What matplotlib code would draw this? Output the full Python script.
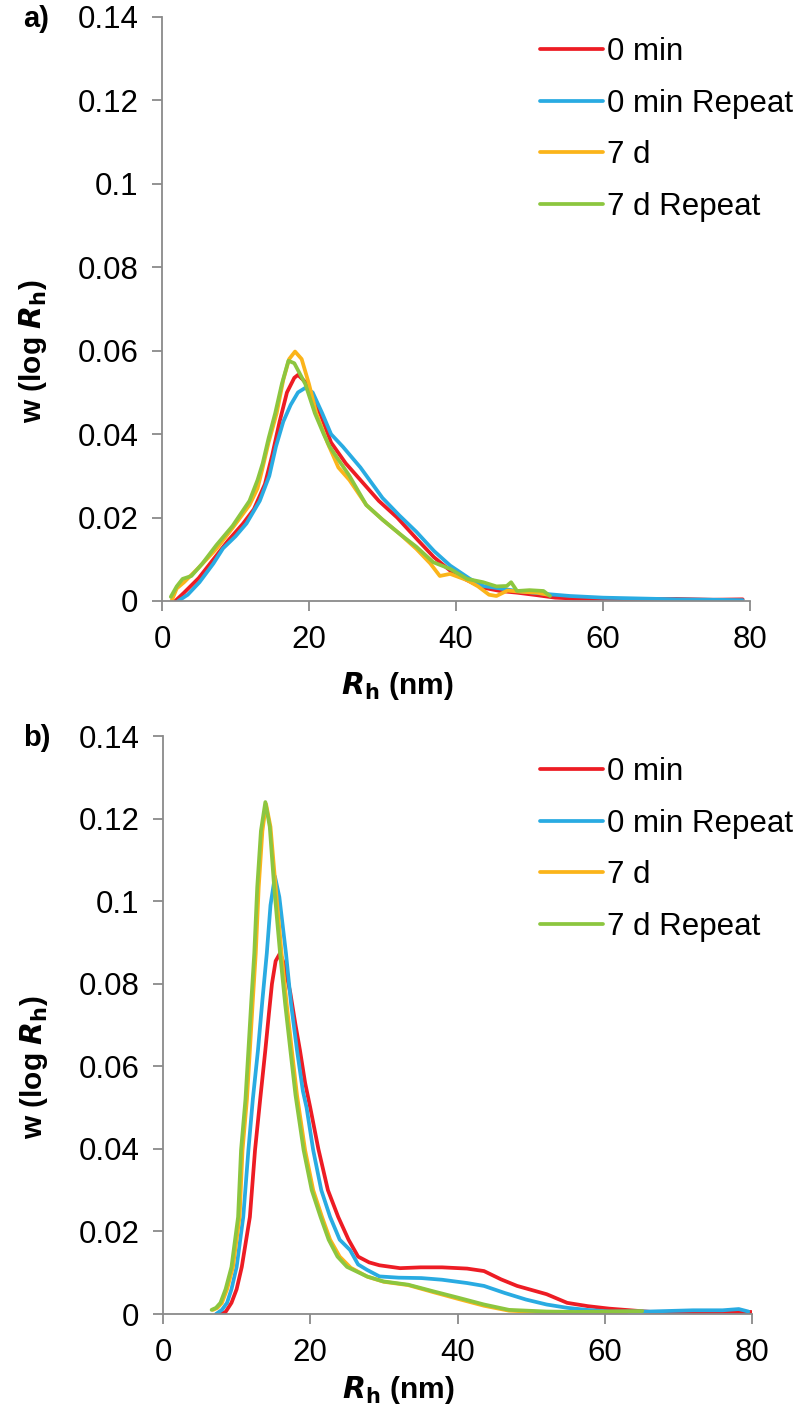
#!/usr/bin/env python

'''Size distributions w(log Rh) for the two samples, 0 min vs 7 d.'''

import matplotlib
matplotlib.use('Agg')
import matplotlib.pyplot as plt

plt.rcParams['font.family'] = ['Liberation Sans', 'DejaVu Sans']

LABELS = ['0 min', '0 min Repeat', '7 d', '7 d Repeat']
COLOURS = ['#ED1C24', '#29ABE2', '#FBB41A', '#8CC63F']

########################################################################
# Panel a) values

a_red_x = [1.8, 3, 5, 7, 9, 11, 12.5, 14, 15, 16, 17, 18, 18.5, 19.5, 20.5,
           21.5, 23, 25, 27, 29.5, 32, 34.6, 37, 39.2, 41.5, 43.7, 46, 48.3,
           51, 53.5, 56, 60, 65, 70, 75, 79]
a_red_y = [0.0, 0.002, 0.0055, 0.010, 0.0145, 0.0185, 0.022, 0.028, 0.035,
           0.043, 0.050, 0.0535, 0.0542, 0.0525, 0.049, 0.045, 0.038, 0.033,
           0.029, 0.024, 0.020, 0.015, 0.0105, 0.0073, 0.0050, 0.0032, 0.0024,
           0.0020, 0.0014, 0.0008, 0.0006, 0.0005, 0.0004, 0.0005, 0.0003,
           0.0004]

a_blue_x = [2.2, 3.5, 5.1, 7, 8.3, 10, 11.5, 13.3, 14.6, 15.5, 16.5, 17.5,
            18.5, 19.5, 20.5, 21.8, 23, 24.6, 27, 30, 32.3, 34.6, 37, 39.2,
            41.9, 43.7, 46, 48.3, 52.8, 55.5, 60, 65, 70, 75, 79]
a_blue_y = [0.0, 0.0015, 0.0045, 0.009, 0.0126, 0.0155, 0.0186, 0.024, 0.030,
            0.037, 0.043, 0.047, 0.050, 0.0511, 0.050, 0.045, 0.040, 0.037,
            0.032, 0.0247, 0.0205, 0.0166, 0.012, 0.0085, 0.0053, 0.0036,
            0.003, 0.0024, 0.0016, 0.0012, 0.0008, 0.0006, 0.0004, 0.0003,
            0.0002]

a_orange_x = [1.3, 2, 3, 5, 7.4, 9.6, 11.9, 13, 13.7, 14.5, 15.6, 16.5, 17.3,
              18.1, 19, 20, 21, 22.5, 24, 25.5, 27.8, 30, 32.4, 34.6, 36.5,
              37.8, 39.2, 41.5, 43, 44.5, 45.5, 47, 49, 51, 52.5]
a_orange_y = [0.0, 0.003, 0.0045, 0.008, 0.0125, 0.0175, 0.023, 0.027, 0.032,
              0.038, 0.045, 0.053, 0.058, 0.0598, 0.058, 0.052, 0.045, 0.038,
              0.032, 0.029, 0.023, 0.0195, 0.016, 0.0125, 0.009, 0.006,
              0.0065, 0.005, 0.0035, 0.0015, 0.0012, 0.0025, 0.0022, 0.0020,
              0.0015]

a_green_x = [1.2, 2, 2.8, 4, 5.5, 7.4, 9.6, 11.9, 13, 13.7, 14.5, 15.4, 16.3,
             17.2, 18, 19.5, 20.8, 22, 22.8, 25.5, 27.8, 30, 32.4, 34.6, 36.9,
             39.2, 41.5, 43.7, 45.5, 46.9, 47.5, 48.3, 50, 51.9, 52.8]
a_green_y = [0.001, 0.0035, 0.0053, 0.006, 0.009, 0.0134, 0.018, 0.024, 0.029,
             0.033, 0.039, 0.045, 0.052, 0.0576, 0.057, 0.052, 0.045, 0.040,
             0.037, 0.030, 0.023, 0.0195, 0.016, 0.013, 0.0093, 0.0077,
             0.0053, 0.0045, 0.0035, 0.0036, 0.0045, 0.0024, 0.0026, 0.0024,
             0.0012]

########################################################################
# Panel b) values

b_red_x = [7.8, 8.5, 9.3, 10.0, 10.7, 11.8, 12.5, 13.2, 13.9, 14.4, 14.8,
           15.3, 15.9, 16.5, 17.3, 18.0, 18.6, 19.3, 20.0, 21.1, 22.4, 23.8,
           25.2, 26.5, 28, 29.4, 32.2, 35, 37.9, 41.3, 43.6, 45.9, 48.1, 52.1,
           54.9, 57.7, 60.6, 66.3, 72, 76, 79.9]
b_red_y = [0.0, 0.0005, 0.0027, 0.006, 0.0114, 0.0235, 0.0397, 0.052, 0.0639,
           0.073, 0.080, 0.0855, 0.0874, 0.0845, 0.0777, 0.070, 0.0639, 0.056,
           0.050, 0.040, 0.030, 0.0235, 0.018, 0.0139, 0.0125, 0.0118, 0.0111,
           0.0113, 0.0113, 0.011, 0.0104, 0.0084, 0.0068, 0.0048, 0.0027,
           0.0019, 0.0013, 0.0005, 0.0004, 0.0003, 0.0005]

b_blue_x = [7.2, 8.0, 8.7, 9.3, 10.0, 10.9, 11.6, 12.2, 12.9, 13.5, 14.1,
            14.6, 15.2, 15.8, 16.7, 17.4, 18.2, 19.0, 19.5, 20.4, 21.5, 22.7,
            24.0, 25.4, 26.5, 27.7, 29.4, 32, 35.1, 37.9, 41.3, 43.6, 46.4,
            49.3, 52.1, 54.9, 57.5, 60.6, 66, 72, 76, 78.2, 79.5]
b_blue_y = [0.0, 0.001, 0.0027, 0.006, 0.0114, 0.0235, 0.0397, 0.052, 0.0639,
            0.076, 0.0874, 0.099, 0.106, 0.101, 0.0874, 0.075, 0.0639, 0.054,
            0.050, 0.0397, 0.030, 0.0235, 0.018, 0.0155, 0.012, 0.0107, 0.0091,
            0.0088, 0.0087, 0.0083, 0.0075, 0.0068, 0.0051, 0.0035, 0.0023,
            0.0015, 0.001, 0.0006, 0.0006, 0.0009, 0.0009, 0.0012, 0.0006]

b_orange_x = [6.8, 7.4, 8.0, 8.7, 9.5, 10.4, 10.8, 11.4, 11.8, 12.2, 12.6,
              13.0, 13.5, 14.0, 14.6, 15.3, 16.1, 16.8, 17.5, 18.2, 19.3, 20.4,
              21.6, 22.7, 24.0, 25.5, 27.8, 30, 33.3, 36.7, 40.2, 43.6, 47, 52,
              56, 60, 63]
b_orange_y = [0.001, 0.0015, 0.0027, 0.006, 0.0114, 0.0235, 0.0397, 0.052,
              0.0639, 0.076, 0.0874, 0.1034, 0.117, 0.1235, 0.118, 0.1034,
              0.0874, 0.075, 0.0639, 0.053, 0.0397, 0.030, 0.0235, 0.018,
              0.0139, 0.0112, 0.0090, 0.0078, 0.0070, 0.0053, 0.0036, 0.0020,
              0.0008, 0.0004, 0.0003, 0.0004, 0.0005]

b_green_x = [6.6, 7.2, 7.8, 8.5, 9.3, 10.2, 10.6, 11.2, 11.6, 12.0, 12.4,
             12.8, 13.3, 13.9, 14.5, 15.1, 15.9, 16.6, 17.3, 18.0, 19.1, 20.2,
             21.4, 22.5, 23.7, 25.0, 27.7, 29.9, 33.3, 36.7, 40.2, 43.6, 47,
             52.1, 56, 60.6, 65.1]
b_green_y = [0.001, 0.0015, 0.0027, 0.006, 0.0114, 0.0235, 0.0397, 0.052,
             0.0639, 0.076, 0.0874, 0.1034, 0.117, 0.124, 0.118, 0.1034,
             0.0874, 0.075, 0.0639, 0.053, 0.0397, 0.030, 0.0235, 0.018,
             0.0139, 0.0114, 0.0091, 0.0079, 0.0071, 0.0055, 0.0039, 0.0023,
             0.001, 0.0006, 0.0005, 0.0006, 0.0007]

########################################################################
# Drawing

GREY = '#8A8A8A'
FIG_W, FIG_H = 802, 1410

def style_axes(ax, top_px, bottom_px, xlabel_gap):
    height_px = bottom_px - top_px
    ax.set_xlim(0, 80)
    ax.set_ylim(0, 0.14)
    ax.set_xticks([0, 20, 40, 60, 80])
    ax.set_yticks([0, 0.02, 0.04, 0.06, 0.08, 0.1, 0.12, 0.14])
    ax.set_yticklabels(['0', '0.02', '0.04', '0.06', '0.08', '0.1', '0.12', '0.14'])
    for side in ('top', 'right'):
        ax.spines[side].set_visible(False)
    for side in ('left', 'bottom'):
        ax.spines[side].set_color(GREY)
        ax.spines[side].set_linewidth(1.3)
    ax.tick_params(direction='out', length=7, width=1.3, color=GREY,
                   labelsize=22.5, pad=10)
    ax.set_xlabel(r'$\bfit{R}_{\mathbf{h}}$ (nm)', fontsize=21.5,
                  fontweight='bold')
    ax.set_ylabel(r'w (log $\bfit{R}_{\mathbf{h}}$)', fontsize=21.5,
                  fontweight='bold')
    # labels sit a little off-centre in the original
    ax.xaxis.set_label_coords(0.40, -xlabel_gap / height_px)
    ax.yaxis.set_label_coords(-113 / 588, 0.5 - 42 / height_px)


def plot_panel(ax, series, tag, top_px, bottom_px, legend_top_px, xlabel_gap):
    lines = []
    for (x, y), label, colour in zip(series, LABELS, COLOURS):
        ln, = ax.plot(x, y, color=colour, lw=2.7, label=label,
                      solid_joinstyle='round', solid_capstyle='round')
        lines.append(ln)
    style_axes(ax, top_px, bottom_px, xlabel_gap)
    ax.legend(handles=lines, loc='upper left', frameon=False,
              fontsize=22.5, handlelength=2.0, handletextpad=0.15,
              labelspacing=0.69, borderpad=0, borderaxespad=0,
              bbox_to_anchor=(540 / FIG_W, 1 - legend_top_px / FIG_H),
              bbox_transform=fig.transFigure)
    fig.text(23 / FIG_W, 1 - (top_px + 2) / FIG_H, tag, fontsize=21,
             fontweight='bold', ha='left', va='center')


fig = plt.figure(figsize=(FIG_W / 100, FIG_H / 100), dpi=100)
ax_a = fig.add_axes([162 / FIG_W, 1 - 601 / FIG_H, 588 / FIG_W, 584 / FIG_H])
ax_b = fig.add_axes([163 / FIG_W, 1 - 1314 / FIG_H, 589 / FIG_W, 578 / FIG_H])

plot_panel(ax_a, [(a_red_x, a_red_y), (a_blue_x, a_blue_y),
                  (a_orange_x, a_orange_y), (a_green_x, a_green_y)],
           'a)', 17, 601, 37, 69)
plot_panel(ax_b, [(b_red_x, b_red_y), (b_blue_x, b_blue_y),
                  (b_orange_x, b_orange_y), (b_green_x, b_green_y)],
           'b)', 736, 1314, 757, 60)

plt.savefig('out.png', dpi=100)
